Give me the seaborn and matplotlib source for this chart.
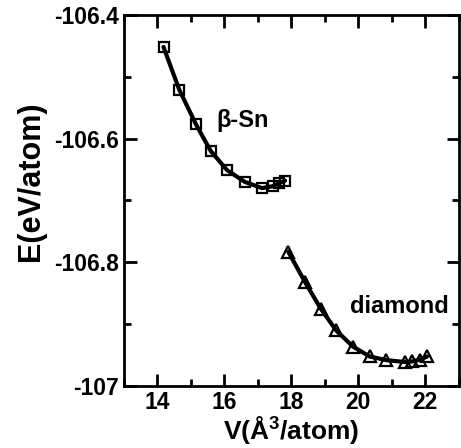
import numpy as np
import pandas as pd
import seaborn as sns
import matplotlib
matplotlib.use("Agg")
import matplotlib.pyplot as plt
from matplotlib.ticker import MultipleLocator, FuncFormatter

# beta-Sn branch (squares)
v_sn = [14.18, 14.65, 15.15, 15.59, 16.08, 16.61, 17.12, 17.44, 17.63, 17.81]
e_sn = [-106.452, -106.521, -106.577, -106.620, -106.651, -106.670,
        -106.680, -106.677, -106.672, -106.668]

# diamond branch (triangles)
v_dia = [17.91, 18.41, 18.88, 19.34, 19.84, 20.34, 20.84, 21.41, 21.61, 21.85, 22.06]
e_dia = [-106.783, -106.832, -106.875, -106.910, -106.936, -106.952,
         -106.958, -106.961, -106.960, -106.957, -106.952]

sn = pd.DataFrame({"V": v_sn, "E": e_sn})
dia = pd.DataFrame({"V": v_dia, "E": e_dia})

sns.set_theme(style="ticks", rc={
    "xtick.direction": "in", "ytick.direction": "in",
    "xtick.top": True, "ytick.right": True,
    "xtick.major.size": 9, "ytick.major.size": 9,
    "xtick.minor.size": 5, "ytick.minor.size": 5,
    "xtick.major.width": 2, "ytick.major.width": 2,
    "xtick.minor.width": 2, "ytick.minor.width": 2,
    "xtick.color": "black", "ytick.color": "black",
    "text.color": "black", "axes.labelcolor": "black",
    "axes.edgecolor": "black", "axes.linewidth": 2,
})
plt.rcParams['font.family'] = ['Liberation Sans', 'DejaVu Sans']
plt.rcParams['font.weight'] = 'bold'
plt.rcParams['axes.unicode_minus'] = False
plt.rcParams['mathtext.default'] = 'regular'

fig = plt.figure(figsize=(4.61, 4.48), dpi=100)
ax = fig.add_axes([0.269, 0.138, 0.726, 0.829])

sns.lineplot(data=sn, x="V", y="E", ax=ax, sort=False, color="black", lw=3,
             marker="s", markersize=7, markerfacecolor="none",
             markeredgecolor="black", markeredgewidth=1.6)
sns.lineplot(data=dia, x="V", y="E", ax=ax, sort=False, color="black", lw=3,
             marker="^", markersize=8, markerfacecolor="none",
             markeredgecolor="black", markeredgewidth=1.6)

ax.text(15.75, -106.570, "β-Sn", fontsize=17, fontweight="bold", va="center")
ax.text(19.75, -106.872, "diamond", fontsize=17, fontweight="bold", va="center")

ax.set_xlim(13, 23)
ax.set_ylim(-107, -106.4)
ax.set_xticks([14, 16, 18, 20, 22])
ax.xaxis.set_minor_locator(MultipleLocator(1))
ax.yaxis.set_major_locator(MultipleLocator(0.2))
ax.yaxis.set_minor_locator(MultipleLocator(0.1))
ax.yaxis.set_major_formatter(FuncFormatter(lambda v, p: "%g" % round(v, 1)))
ax.tick_params(which="both", labelsize=16.5, top=True, right=True,
               bottom=True, left=True, direction="in", color="black")
ax.tick_params(which="major", length=9, width=2)
ax.tick_params(which="minor", length=5, width=2)

ax.set_xlabel("V(Å$^{3}$/atom)", fontsize=19, fontweight="bold", labelpad=0)
ax.set_ylabel("E(eV/atom)", fontsize=22, fontweight="bold")
ax.yaxis.set_label_coords(-0.232, 0.553)

fig.savefig("out.png", dpi=100)
